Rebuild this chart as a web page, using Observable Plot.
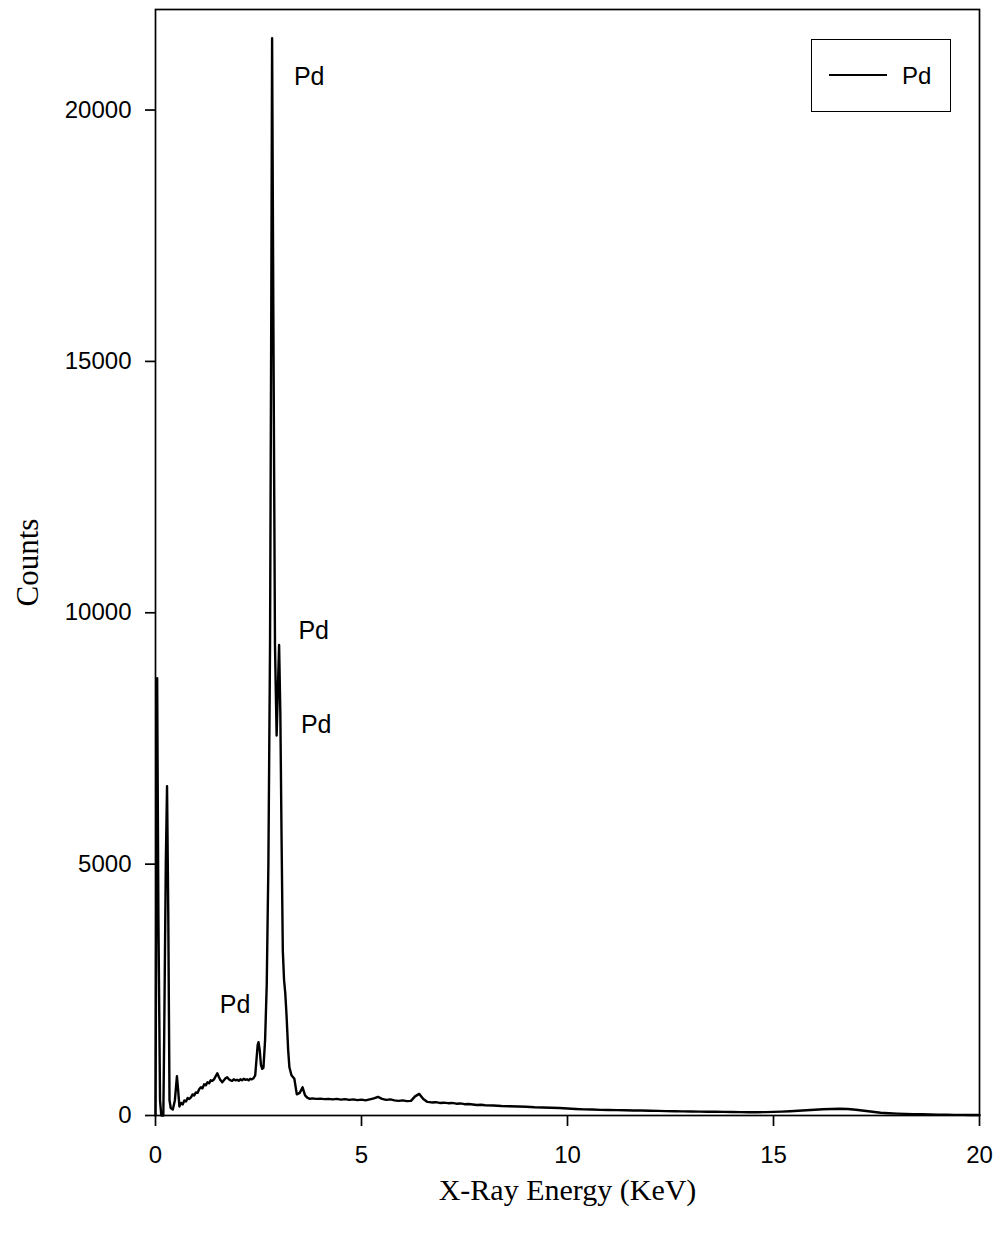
<!DOCTYPE html>
<html>
<head>
<meta charset="utf-8">
<script src="https://cdn.jsdelivr.net/npm/d3@7"></script>
<script src="https://cdn.jsdelivr.net/npm/@observablehq/plot@0.6"></script>
<style>
  html, body { margin: 0; padding: 0; background: #fff; }
  #wrap { position: relative; width: 998px; height: 1239px; }
  #legend { position: absolute; left: 811px; top: 39px; width: 140px; height: 73px;
    border: 1.5px solid #000; box-sizing: border-box; background: #fff;
    font-family: "Liberation Sans", Arial, sans-serif; font-size: 24px; }
  #legend .sw { position: absolute; left: 17px; top: 34px; width: 58px; height: 0; border-top: 2px solid #000; }
  #legend .lb { position: absolute; left: 90px; top: 20px; line-height: 32px; }
</style>
</head>
<body>
<div id="wrap">
  <div id="chart"></div>
  <div id="legend"><div class="sw"></div><div class="lb"></div></div>
</div>
<script>
const seriesName = "Pd";
const xLabel = "X-Ray Energy (KeV)";
const yLabel = "Counts";
const xTicks = [0, 5, 10, 15, 20];
const yTicks = [0, 5000, 10000, 15000, 20000];

// X-ray energy (KeV) and counts
const energy = [
  0.00, 0.02, 0.04, 0.07, 0.11, 0.14, 0.19, 0.21, 0.25, 0.28, 0.31, 0.34, 0.37, 0.42, 0.47, 0.52, 0.55, 0.58,
  0.62, 0.66, 0.70, 0.74, 0.78, 0.82, 0.86, 0.90, 0.94, 0.98, 1.02, 1.06, 1.10, 1.14, 1.18, 1.22, 1.26, 1.30,
  1.34, 1.38, 1.42, 1.46, 1.50, 1.54, 1.58, 1.62, 1.66, 1.70, 1.74, 1.78, 1.82, 1.86, 1.90, 1.94, 1.98, 2.02,
  2.06, 2.10, 2.14, 2.18, 2.22, 2.26, 2.30, 2.34, 2.38, 2.42, 2.45, 2.48, 2.50, 2.53, 2.56, 2.59, 2.62,
  2.66, 2.70, 2.74, 2.78, 2.81, 2.83, 2.86, 2.90, 2.94, 3.00, 3.03, 3.06, 3.09, 3.12, 3.15, 3.18, 3.22, 3.25,
  3.30, 3.37, 3.43, 3.50, 3.57, 3.63, 3.69, 3.75, 3.80, 3.90, 4.00, 4.10, 4.20, 4.30, 4.40, 4.50, 4.60, 4.70,
  4.80, 4.90, 5.00, 5.10, 5.20, 5.30, 5.40, 5.50, 5.60, 5.70, 5.80, 5.90, 6.00, 6.10, 6.20, 6.30, 6.40, 6.50,
  6.60, 6.70, 6.80, 6.90, 7.00, 7.10, 7.20, 7.30, 7.40, 7.50, 7.60, 7.70, 7.80, 7.90, 8.00, 8.20, 8.40, 8.60,
  8.80, 9.00, 9.20, 9.40, 9.60, 9.80, 10.00, 10.20, 10.40, 10.60, 10.80, 11.00, 11.20, 11.40, 11.60, 11.80,
  12.00, 12.20, 12.40, 12.60, 12.80, 13.00, 13.20, 13.40, 13.60, 13.80, 14.00, 14.20, 14.40, 14.60, 14.80,
  15.00, 15.20, 15.40, 15.60, 15.80, 16.00, 16.20, 16.40, 16.60, 16.80, 17.00, 17.20, 17.40, 17.60, 17.80,
  18.00, 18.20, 18.40, 18.60, 18.80, 19.00, 19.20, 19.40, 19.60, 19.80, 20.00
];
const counts = [
  0, 4500, 8700, 4000, 300, 0, 0, 1500, 5000, 6550, 4000, 300, 150, 120, 300, 780, 500, 180,
  250, 220, 300, 280, 350, 330, 360, 420, 400, 460, 450, 520, 560, 540, 620, 600, 660, 640,
  700, 690, 720, 780, 840, 760, 700, 660, 700, 740, 760, 720, 700, 690, 720, 700, 710, 690,
  720, 700, 730, 710, 720, 700, 730, 720, 740, 800, 1100, 1400, 1460, 1300, 1000, 930, 950,
  1500, 2600, 5000, 9350, 16000, 21430, 16000, 9350, 7560, 9360, 8000, 5500, 3280, 2700, 2430, 2000, 1300, 960,
  800, 730, 420, 450, 560, 400, 350, 330, 340, 330, 335, 325, 330, 320, 330, 315, 325, 310,
  320, 305, 315, 300, 320, 340, 370, 330, 310, 320, 300, 290, 300, 285, 290, 380, 430, 330,
  270, 260, 265, 250, 255, 245, 250, 235, 240, 225, 230, 220, 210, 215, 205, 200, 190, 185,
  180, 175, 165, 160, 155, 150, 140, 130, 122, 118, 112, 110, 106, 104, 100, 98,
  95, 92, 88, 86, 82, 80, 78, 76, 74, 72, 70, 68, 66, 66, 68,
  72, 78, 85, 95, 105, 115, 125, 130, 135, 130, 115, 95, 75, 55, 45,
  38, 32, 28, 24, 20, 18, 15, 13, 12, 10, 9
];

// peak annotations
const peakLabelX = [3.73, 3.84, 3.90, 1.93];
const peakLabelY = [20650, 9630, 7770, 2190];

const spectrum = energy.map((e, i) => ({energy: e, counts: counts[i]}));
const peakLabels = peakLabelX.map((x, i) => ({x, y: peakLabelY[i], text: seriesName}));

const chart = Plot.plot({
  width: 998,
  height: 1239,
  marginLeft: 155,
  marginRight: 19,
  marginTop: 9,
  marginBottom: 124,
  style: {fontFamily: "'Liberation Sans', Arial, sans-serif", background: "#fff", color: "#000"},
  x: {domain: [0, 20]},
  y: {domain: [0, 22000]},
  marks: [
    Plot.line(spectrum, {x: "energy", y: "counts", stroke: "#000", strokeWidth: 2.4}),
    Plot.frame({stroke: "#000", strokeWidth: 1.7}),
    Plot.axisX({ticks: xTicks, tickSize: 11, tickPadding: 19, fontSize: 24, label: null, strokeWidth: 1.7}),
    Plot.axisY({ticks: yTicks, tickSize: 10, tickPadding: 14, fontSize: 24, label: null, strokeWidth: 1.7, tickFormat: d => String(d)}),
    Plot.text(peakLabels, {x: "x", y: "y", text: "text", fontSize: 25, fill: "#000"}),
    Plot.text([xLabel], {frameAnchor: "bottom", dy: 84, fontSize: 30, fontFamily: "'Liberation Serif', 'Times New Roman', serif", fill: "#000"}),
    Plot.text([yLabel], {frameAnchor: "left", textAnchor: "middle", dx: -127, rotate: -90, fontSize: 31, fontFamily: "'Liberation Serif', 'Times New Roman', serif", fill: "#000"})
  ]
});
document.getElementById("chart").appendChild(chart);
document.querySelector("#legend .lb").textContent = seriesName;
</script>
</body>
</html>
